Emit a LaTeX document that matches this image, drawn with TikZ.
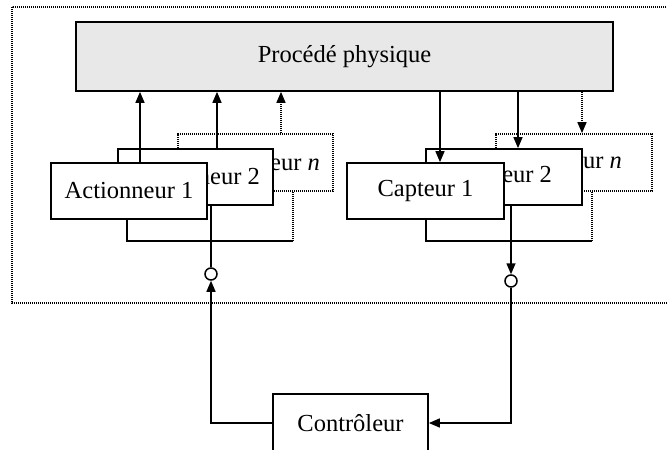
\documentclass[tikz,border=0pt]{standalone}
\usepackage{fontspec}
\setmainfont{Liberation Serif}
\usetikzlibrary{arrows.meta}
\begin{document}
\begin{tikzpicture}[x=1pt,y=-1pt,
  box/.style={draw, line width=1.7pt, fill=white, inner sep=0pt, font=\fontsize{24.5}{28}\selectfont},
  dbox/.style={box, dash pattern=on 1.4pt off 0.6pt},
  conn/.style={line width=1.5pt},
  dconn/.style={conn, dash pattern=on 1.4pt off 0.6pt},
  arr/.style={conn, -{Triangle[length=11pt,width=9pt]}},
  darr/.style={dconn, -{Triangle[length=11pt,width=9pt]}},
  junc/.style={circle, draw, line width=1.5pt, fill=white, minimum size=12pt, inner sep=0pt}]
\useasboundingbox (0,0) rectangle (667,450);
% outer dotted frame
\draw[line width=1.6pt, dash pattern=on 1.3pt off 0.7pt] (12,7) rectangle (675,303);
% process
\node[box, fill=gray!18, minimum width=537pt, minimum height=69pt] (proc) at (344.5,56.5) {Procédé physique};
\coordinate (ax1) at (127,0);
\coordinate (ax2) at (293,0);
\coordinate (cx1) at (426,0);
\coordinate (cx2) at (592,0);
% actuators
\node[dbox, minimum width=155pt, minimum height=57pt] (actn) at (255.5,162.5) {Actionneur \textit{n}};
\node[box, minimum width=155pt, minimum height=56pt] (act2) at (195.5,177) {Actionneur 2};
\node[box, minimum width=156pt, minimum height=56pt] (act1) at (129,191) {Actionneur 1};
\draw[conn] (act1.south -| ax1) |- (293,241);
\draw[dconn] (293,241) -- (actn.south -| ax2);
% sensors
\node[dbox, minimum width=156pt, minimum height=57pt] (capn) at (574,162.5) {Capteur \textit{n}};
\node[box, minimum width=156pt, minimum height=56pt] (cap2) at (504,177) {Capteur 2};
\node[box, minimum width=157pt, minimum height=56pt] (cap1) at (425.5,191) {Capteur 1};
\draw[conn] (cap1.south -| cx1) |- (592,241);
\draw[dconn] (592,241) -- (capn.south -| cx2);
% actuator arrows to process
\coordinate (p1) at (140,0);
\coordinate (p2) at (217,0);
\coordinate (p3) at (281,0);
\draw[arr] (act1.north -| p1) -- (proc.south -| p1);
\draw[arr] (act2.north -| p2) -- (proc.south -| p2);
\draw[darr] (actn.north -| p3) -- (proc.south -| p3);
% process arrows to sensors
\coordinate (q1) at (440,0);
\coordinate (q2) at (518,0);
\coordinate (q3) at (582,0);
\draw[arr] (proc.south -| q1) -- (cap1.north -| q1);
\draw[arr] (proc.south -| q2) -- (cap2.north -| q2);
\draw[darr] (proc.south -| q3) -- (capn.north -| q3);
% junctions
\node[junc] (ja) at (211,274) {};
\node[junc] (jc) at (511,281) {};
\draw[conn] (act2.south -| ja) -- (ja.north);
\draw[arr] (cap2.south -| jc) -- (jc.north);
% controller
\node[box, minimum width=155pt, minimum height=58pt] (ctrl) at (350.5,423) {Contrôleur};
\draw[arr] (ctrl.west) -| (ja.south);
\draw[arr] (jc.south) |- (ctrl.east);
\end{tikzpicture}
\end{document}
